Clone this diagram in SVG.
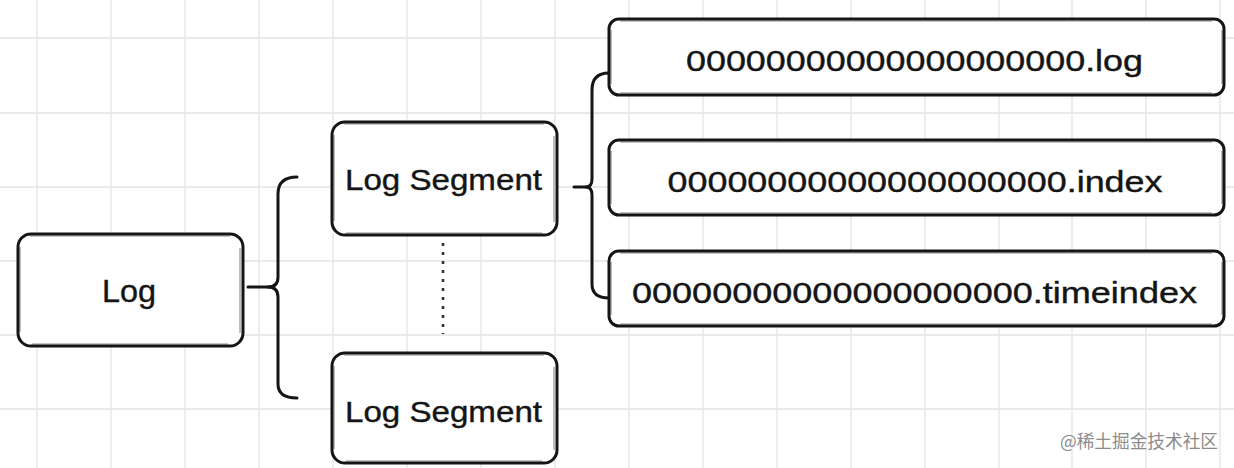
<svg xmlns="http://www.w3.org/2000/svg" width="1234" height="468" viewBox="0 0 1234 468">
<style>
.grid{stroke:#e3e3e3;stroke-width:1.3;fill:none}
.box{fill:#fff;stroke:#151515;stroke-width:3}
.sk{fill:none;stroke:#2a2a2a;stroke-width:1.1;opacity:.55}
.con{fill:none;stroke:#151515;stroke-width:3;stroke-linecap:round;stroke-linejoin:round}
.dot{fill:none;stroke:#333;stroke-width:2.6;stroke-dasharray:3 6}
.t{font-family:"Liberation Sans","DejaVu Sans",sans-serif;fill:#151515;text-anchor:middle;stroke:#151515;stroke-width:0.4}
.wm{font-family:"Noto Sans CJK SC",sans-serif;fill:#8c8c8c;font-size:18px}
</style>
<rect width="1234" height="468" fill="#fff"/>
<g id="grid" class="grid">
<path d="M37,0V468M111,0V468M185,0V468M259,0V468M333,0V468M407,0V468M481,0V468M555,0V468M629,0V468M703,0V468M777,0V468M851,0V468M925,0V468M999,0V468M1072,0V468M1146,0V468M1220,0V468"/>
<path d="M0,38H1234M0,113H1234M0,187H1234M0,261H1234M0,335H1234M0,409H1234"/>
</g>
<g id="connectors">
<path class="con" d="M248,287H268Q278,287 278,277V194Q278,177 297,177"/>
<path class="con" d="M268,287Q278,287 278,297V384Q278,398 297,398"/>
<path class="dot" d="M443,243V334"/>
<path class="con" d="M574,187H586Q592,187 592,179V90Q592,73 609,73"/>
<path class="con" d="M586,187Q592,187 592,195V284Q592,298 609,298"/>
</g>
<g id="log">
<rect class="box" x="18" y="234" width="225" height="112" rx="13"/>
<path class="sk" d="M30,236H230M240,248V333M228,344H32M20,332V247"/>
<text class="t" x="129" y="302" font-size="32" textLength="54" lengthAdjust="spacingAndGlyphs">Log</text>
</g>
<g id="segment1">
<rect class="box" x="332" y="122" width="225" height="113" rx="13"/>
<path class="sk" d="M344,124H544M554,136V222M542,233H346M334,221V135"/>
<text class="t" x="443.5" y="190" font-size="30" textLength="197" lengthAdjust="spacingAndGlyphs">Log Segment</text>
</g>
<g id="segment2">
<rect class="box" x="332" y="353" width="225" height="110" rx="13"/>
<path class="sk" d="M344,355H544M554,367V450M542,461H346M334,449V366"/>
<text class="t" x="443.5" y="422" font-size="30" textLength="197" lengthAdjust="spacingAndGlyphs">Log Segment</text>
</g>
<g id="file-log">
<rect class="box" x="609" y="19" width="615" height="76" rx="10"/>
<path class="sk" d="M620,21H1212M1222,30V84M1212,93H620M611,84V30"/>
<text class="t" x="914.5" y="71" font-size="29" textLength="457" lengthAdjust="spacingAndGlyphs">00000000000000000000.log</text>
</g>
<g id="file-index">
<rect class="box" x="609" y="140" width="615" height="75" rx="10"/>
<path class="sk" d="M620,142H1212M1222,151V204M1212,213H620M611,204V151"/>
<text class="t" x="915" y="192" font-size="29" textLength="495" lengthAdjust="spacingAndGlyphs">00000000000000000000.index</text>
</g>
<g id="file-timeindex">
<rect class="box" x="609" y="251" width="615" height="75" rx="10"/>
<path class="sk" d="M620,253H1212M1222,262V315M1212,324H620M611,315V262"/>
<text class="t" x="914.5" y="303" font-size="29" textLength="565" lengthAdjust="spacingAndGlyphs">00000000000000000000.timeindex</text>
</g>
<g id="watermark">
<text class="wm" x="1060" y="448" textLength="158" lengthAdjust="spacingAndGlyphs">@稀土掘金技术社区</text>
</g>
</svg>
